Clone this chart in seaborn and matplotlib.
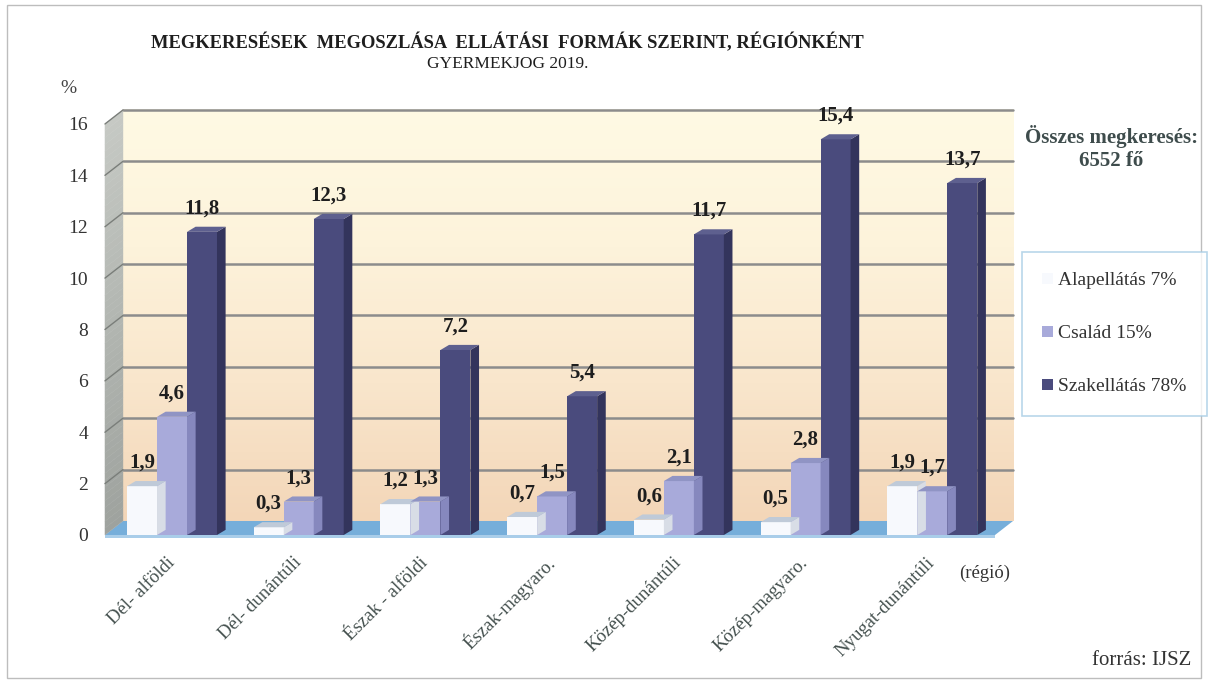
import numpy as np
import pandas as pd
import matplotlib
matplotlib.use("Agg")
import matplotlib.pyplot as plt
from matplotlib.patches import Polygon, Rectangle
from matplotlib.lines import Line2D
from matplotlib.transforms import ScaledTranslation
import seaborn as sns

regions = ["Dél- alföldi", "Dél- dunántúli", "Észak - alföldi", "Észak-magyaro.",
           "Közép-dunántúli", "Közép-magyaro.", "Nyugat-dunántúli"]
series_names = ["Alapellátás 7%", "Család 15%", "Szakellátás 78%"]
alapellatas = [1.9, 0.3, 1.2, 0.7, 0.6, 0.5, 1.9]
csalad = [4.6, 1.3, 1.3, 1.5, 2.1, 2.8, 1.7]
szakellatas = [11.8, 12.3, 7.2, 5.4, 11.7, 15.4, 13.7]
y_ticks = [0, 2, 4, 6, 8, 10, 12, 14, 16]

front_colors = ["#F7F9FD", "#A8AADA", "#4A4B7D"]
side_colors = ["#D8DDE6", "#8688BE", "#33345C"]
top_colors = ["#BFCAD8", "#9094C4", "#5E608F"]

df = pd.DataFrame({
    "régió": regions * 3,
    "forma": np.repeat(series_names, len(regions)),
    "érték": alapellatas + csalad + szakellatas,
})

sns.set_theme(style="white")
plt.rcParams["font.family"] = ["Liberation Serif", "DejaVu Serif"]

DPI = 100
fig = plt.figure(figsize=(12.08, 6.83), dpi=DPI)
ax_box = [0.0869, 0.2167, 0.7368, 0.6018]
ax = fig.add_axes(ax_box)
ax.set_facecolor("none")

sns.barplot(data=df, x="régió", y="érték", hue="forma", hue_order=series_names,
            palette=front_colors, saturation=1, width=0.71, ax=ax,
            edgecolor="none", zorder=3)

n = len(regions)
xlim = (-0.529, n - 0.505)
ax.set_ylim(0, 16)
ax.set_xlim(*xlim)

# depth of the chart's back wall (in pixels) and of the bars
wall_dx_px, wall_dy_px = 18, 14
back = ax.transData + ScaledTranslation(wall_dx_px / DPI, wall_dy_px / DPI,
                                        fig.dpi_scale_trans)
ax_w_px = fig.get_figwidth() * DPI * ax_box[2]
ax_h_px = fig.get_figheight() * DPI * ax_box[3]
wdx = wall_dx_px / ax_w_px
wdy = wall_dy_px / ax_h_px

# warm gradient on the back wall
grad = np.linspace(0, 1, 256).reshape(-1, 1)
cmap = matplotlib.colors.LinearSegmentedColormap.from_list(
    "wall", ["#F3D6B8", "#F9E6CC", "#FDF3DB", "#FFFAE4"])
im = ax.imshow(grad, aspect="auto", cmap=cmap, origin="lower",
               extent=[xlim[0], xlim[1], 0, 16], zorder=0)
im.set_transform(back)
im.set_clip_on(False)
ax.set_xlim(*xlim)
ax.set_ylim(0, 16)

for y in y_ticks[1:]:
    ax.add_line(Line2D([xlim[0], xlim[1]], [y, y], transform=back, color="#8C8C8C",
                       lw=1.8, zorder=1, clip_on=False))

# floor
floor = Polygon([[0.0, 0.0], [1.0, 0.0], [1.0 + wdx, wdy], [wdx, wdy]],
                closed=True, transform=ax.transAxes, fc="#76AEDA", ec="none",
                clip_on=False, zorder=2)
ax.add_patch(floor)
ax.add_patch(Polygon([[0.0, 0.0], [1.0, 0.0], [1.0, -0.008], [0.0, -0.008]],
                     closed=True, transform=ax.transAxes, fc="#A9CDE9", ec="none",
                     clip_on=False, zorder=2))

# left side wall, shaded in thin slanted bands
wall_cmap = matplotlib.colors.LinearSegmentedColormap.from_list(
    "side", ["#9EA29E", "#B2B6B1", "#C6C9C4"])
n_bands = 60
edges = np.linspace(0, 1, n_bands + 1)
for k in range(n_bands):
    t0, t1 = edges[k], edges[k + 1]
    ax.add_patch(Polygon([[0.0, t0], [wdx, t0 + wdy], [wdx, t1 + wdy], [0.0, t1]],
                         closed=True, transform=ax.transAxes,
                         fc=wall_cmap((t0 + t1) / 2), ec=wall_cmap((t0 + t1) / 2),
                         lw=0.3, clip_on=False, zorder=2))
for y in y_ticks[1:]:
    ya = y / 16
    ax.add_line(Line2D([0.0, wdx], [ya, ya + wdy], transform=ax.transAxes,
                       color="#7A7E7A", lw=1.0, zorder=2, clip_on=False))

# side and top faces of the bars, value labels above
dx, dy = 0.068, 0.2
values_by_series = [alapellatas, csalad, szakellatas]
bars = [p for p in ax.patches if isinstance(p, Rectangle) and p.get_height() > 0
        and p.get_zorder() == 3]
for s in range(3):
    for i in range(n):
        p = bars[s * n + i]
        x0, w, h = p.get_x(), p.get_width(), p.get_height()
        x1 = x0 + w
        side = Polygon([[x1, 0], [x1 + dx, dy], [x1 + dx, h + dy], [x1, h]],
                       closed=True, fc=side_colors[s], ec="none", zorder=3)
        top = Polygon([[x0, h], [x0 + dx, h + dy], [x1 + dx, h + dy], [x1, h]],
                      closed=True, fc=top_colors[s], ec="none", zorder=3)
        ax.add_patch(side)
        ax.add_patch(top)
        label = f"{values_by_series[s][i]:.1f}".replace(".", ",")
        ax.annotate(label, (x0 + w / 2, h + dy), xytext=(0, 6),
                    textcoords="offset points", ha="center", va="bottom",
                    fontsize=15, fontweight="bold", color="#1E1E1E", zorder=5)

for sp in ax.spines.values():
    sp.set_visible(False)

ax.set_yticks(y_ticks)
ax.set_yticklabels([str(t) for t in y_ticks], fontsize=14, color="#333333")
ax.tick_params(axis="y", pad=12, length=0)
ax.tick_params(axis="x", length=0, pad=18)
ax.set_xticks(range(n))
ax.set_xticklabels(regions, rotation=45, ha="right", va="center",
                   rotation_mode="anchor", fontsize=13.5, color="#44504E")
ax.set_xlabel("")
ax.set_ylabel("")

handles, labels = ax.get_legend_handles_labels()
ax.legend_.remove()
leg = fig.legend(handles, labels, loc="upper left", bbox_to_anchor=(0.846, 0.631),
                 frameon=True, fontsize=14, handlelength=0.55, handleheight=0.55,
                 handletextpad=0.25, labelspacing=1.85, borderpad=1.05,
                 borderaxespad=0, fancybox=False, edgecolor="#A7CCE4")
leg.get_frame().set_linewidth(1.2)
for t in leg.get_texts():
    t.set_color("#333333")

fig.text(0.420, 0.937, "MEGKERESÉSEK  MEGOSZLÁSA  ELLÁTÁSI  FORMÁK SZERINT, RÉGIÓNKÉNT",
         ha="center", va="center", fontsize=13.3, fontweight="bold", color="#1E1E1E")
fig.text(0.420, 0.907, "GYERMEKJOG 2019.", ha="center", va="center",
         fontsize=12.5, color="#1E1E1E")
fig.text(0.050, 0.870, "%", ha="left", va="center", fontsize=14, color="#444444")
fig.text(0.920, 0.783, "Összes megkeresés:\n6552 fő", ha="center", va="center",
         fontsize=15, fontweight="bold", color="#3E4C4C", linespacing=1.2)
fig.text(0.815, 0.161, "(régió)", ha="center", va="center", fontsize=13.5,
         color="#333333")
fig.text(0.945, 0.033, "forrás: IJSZ", ha="center", va="center", fontsize=15,
         color="#333333")

fig.patches.append(Rectangle((0.006, 0.007), 0.988, 0.986, transform=fig.transFigure,
                             fill=False, ec="#BDBDBD", lw=1.0))

fig.savefig("out.png", dpi=DPI)
